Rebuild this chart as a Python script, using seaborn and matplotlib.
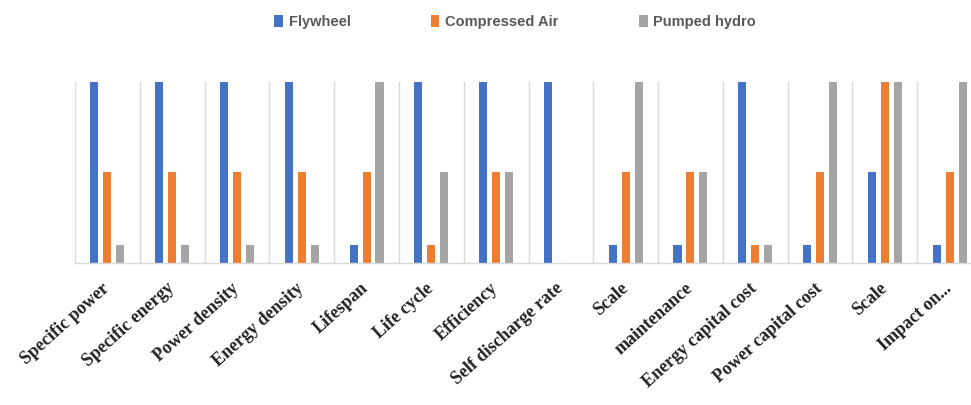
import matplotlib
matplotlib.use("Agg")
import matplotlib.pyplot as plt
import matplotlib.transforms as mtransforms
import seaborn as sns
import pandas as pd
import numpy as np

categories = ["Specific power", "Specific energy", "Power density", "Energy density",
              "Lifespan", "Life cycle", "Efficiency", "Self discharge rate", "Scale",
              "maintenance", "Energy capital cost", "Power capital cost", "Scale",
              "Impact on..."]
series = ["Flywheel", "Compressed Air", "Pumped hydro"]
flywheel = [10, 10, 10, 10, 1, 10, 10, 10, 1, 1, 10, 1, 5, 1]
compressed_air = [5, 5, 5, 5, 5, 1, 5, 0, 5, 5, 1, 5, 10, 5]
pumped_hydro = [1, 1, 1, 1, 10, 5, 5, 0, 10, 5, 1, 10, 10, 10]
colors = ["#4472C4", "#ED7D31", "#A5A5A5"]

rows = []
for name, vals in zip(series, [flywheel, compressed_air, pumped_hydro]):
    for i, v in enumerate(vals):
        rows.append({"pos": i, "series": name, "value": v})
df = pd.DataFrame(rows)

sns.set_theme(style="white")
fig = plt.figure(figsize=(9.71, 4.05), dpi=100)
ax = fig.add_axes([75 / 971, 1 - 263 / 405, 907 / 971, 181 / 405])

sns.barplot(data=df, x="pos", y="value", hue="series", hue_order=series,
            palette=colors, saturation=1, width=0.6, gap=0.38, linewidth=0, ax=ax,
            legend=True, errorbar=None)

ax.set_ylim(0, 10)
ax.set_xlim(-0.5, len(categories) - 0.5)
ax.set_yticks([])
ax.set_xlabel("")
ax.set_ylabel("")
for s in ["top", "right", "left"]:
    ax.spines[s].set_visible(False)
ax.spines["bottom"].set_color("#d9d9d9")
ax.spines["bottom"].set_linewidth(1.0)

ax.set_xticks(np.arange(len(categories) + 1) - 0.5, minor=True)
ax.grid(True, which="minor", axis="x", color="#d9d9d9", linewidth=1.0)
ax.grid(False, which="major")
ax.tick_params(axis="x", which="both", length=0)
ax.set_xticks(np.arange(len(categories)))
ax.set_xticklabels(categories, rotation=42, ha="right", rotation_mode="anchor",
                   family="Liberation Serif", fontweight="bold", fontsize=13,
                   color="#222222")
ax.tick_params(axis="x", which="major", pad=12)
offset = mtransforms.ScaledTranslation(-6 / 100, 0, fig.dpi_scale_trans)
for lab in ax.get_xticklabels():
    lab.set_transform(lab.get_transform() + offset)

handles, labels = ax.get_legend_handles_labels()
ax.get_legend().remove()
fig.legend(handles, labels, loc="center", bbox_to_anchor=(515 / 971, 1 - 22 / 405),
           ncol=3, frameon=False, handlelength=0.6, handleheight=0.9,
           handletextpad=0.4, columnspacing=5.5,
           prop={"family": "Liberation Sans", "weight": "bold", "size": 10.5},
           labelcolor="#595959")

fig.savefig("out.png", dpi=100)
